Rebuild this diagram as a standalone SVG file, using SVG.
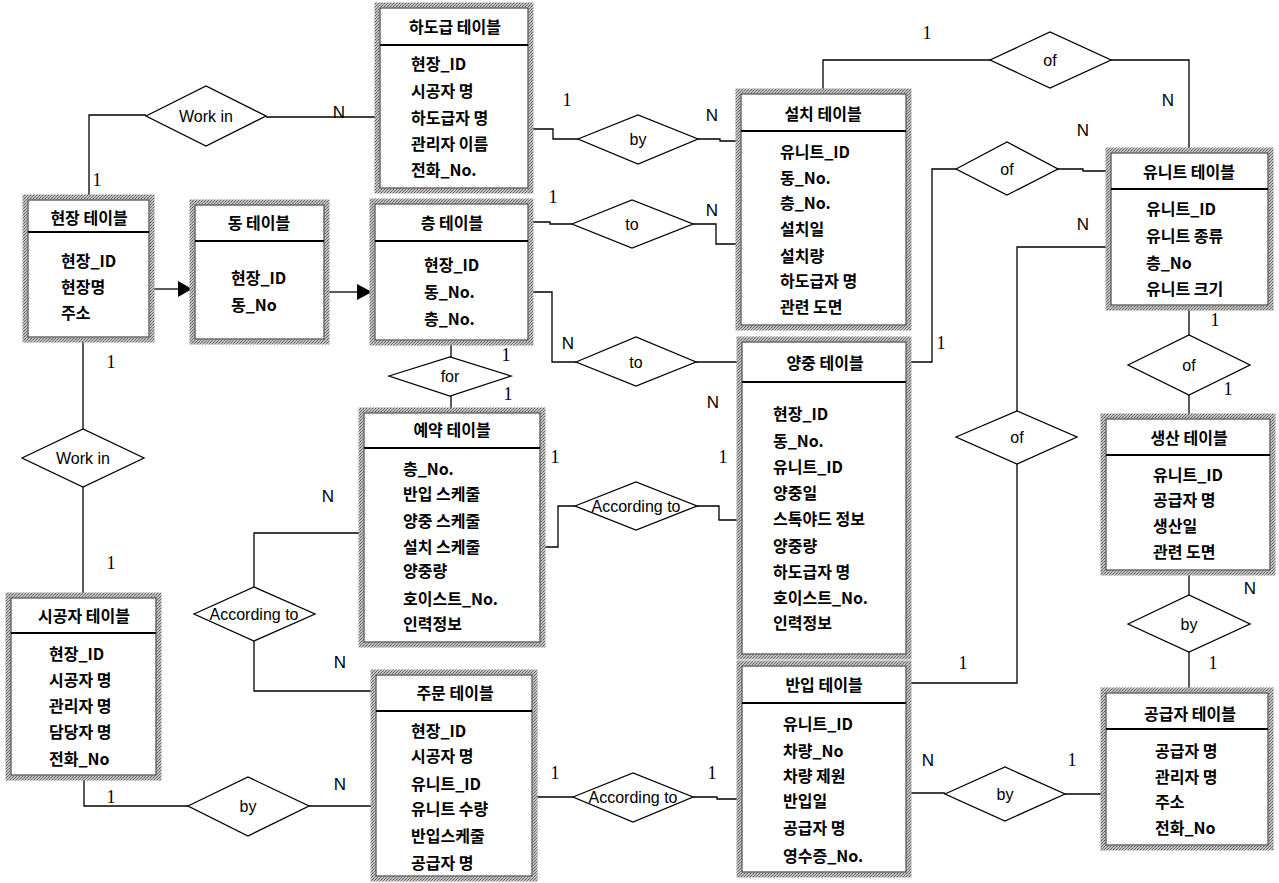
<svg xmlns="http://www.w3.org/2000/svg" width="1279" height="883" viewBox="0 0 1279 883">
<defs>
<pattern id="hatch" width="3" height="3" patternUnits="userSpaceOnUse">
<rect width="3" height="3" fill="#c4c4c4"/>
<rect width="1" height="1" fill="#555"/>
<rect x="2" y="1" width="1" height="1" fill="#777"/>
<rect x="1" y="2" width="1" height="1" fill="#666"/>
</pattern>
</defs>
<style>
.frame{fill:#fff;stroke:url(#hatch);stroke-width:5}
.inner{fill:none;stroke:#222;stroke-width:1}
.div{stroke:#000;stroke-width:2}
.t{font-family:"Noto Sans CJK KR","Noto Sans",sans-serif;font-size:16px;font-weight:700;fill:#000;dominant-baseline:central}
.tt{text-anchor:middle}
.c{fill:none;stroke:#000;stroke-width:1.3}
.dia{fill:#fff;stroke:#000;stroke-width:1.3}
.dl{font-family:"Liberation Sans",Arial,sans-serif;font-size:16px;fill:#000;text-anchor:middle;dominant-baseline:central}
.n{font-family:"Liberation Sans",Arial,sans-serif;font-size:17px;fill:#000;text-anchor:middle;dominant-baseline:central}
.one{font-family:"Liberation Serif","Times New Roman",serif;font-size:18px;fill:#000;text-anchor:middle;dominant-baseline:central}
</style>

<g id="connectors">
<polyline class="c" points="89,197 89,115 146,115"/>
<line class="c" x1="266" y1="117" x2="377" y2="117"/>
<polyline class="c" points="531,129 553,129 553,139 578,139"/>
<polyline class="c" points="698,139 720,139 720,141 738,141"/>
<polyline class="c" points="531,222 550,222 550,224 572,224"/>
<polyline class="c" points="693,224 716,224 716,244 738,244"/>
<polyline class="c" points="531,292 552,292 552,362 576,362"/>
<line class="c" x1="696" y1="362" x2="739" y2="362"/>
<line class="c" x1="451" y1="343" x2="451" y2="357"/>
<line class="c" x1="451" y1="396" x2="451" y2="410"/>
<line class="c" x1="83" y1="340" x2="83" y2="429"/>
<line class="c" x1="83" y1="487" x2="83" y2="595"/>
<polyline class="c" points="254,587 254,533 361,533"/>
<polyline class="c" points="254,641 254,691 373,691"/>
<polyline class="c" points="84,778 84,806 188,806"/>
<line class="c" x1="309" y1="806" x2="373" y2="806"/>
<line class="c" x1="535" y1="797" x2="573" y2="797"/>
<polyline class="c" points="693,797 717,797 717,799 739,799"/>
<polyline class="c" points="543,547 558,547 558,506 575,506"/>
<polyline class="c" points="697,506 719,506 719,520 739,520"/>
<polyline class="c" points="823,91 823,60 990,60"/>
<polyline class="c" points="1111,60 1189,60 1189,150"/>
<polyline class="c" points="909,362 932,362 932,169 956,169"/>
<polyline class="c" points="1058,169 1083,169 1083,171 1108,171"/>
<line class="c" x1="1189" y1="308" x2="1189" y2="335"/>
<line class="c" x1="1189" y1="395" x2="1189" y2="416"/>
<polyline class="c" points="1108,247 1017,247 1017,411"/>
<polyline class="c" points="1017,464 1017,683 909,683"/>
<line class="c" x1="1189" y1="573" x2="1189" y2="595"/>
<line class="c" x1="1189" y1="652" x2="1189" y2="690"/>
<line class="c" x1="909" y1="793" x2="945" y2="793"/>
<line class="c" x1="1065" y1="794" x2="1103" y2="794"/>
<line class="c" x1="152" y1="289" x2="179" y2="289"/>
<polygon points="178,281 192,289 178,297" fill="#000"/>
<line class="c" x1="327" y1="292" x2="358" y2="292"/>
<polygon points="357,284 372,292 357,300" fill="#000"/>
</g>

<g id="rel-workin-top"><polygon class="dia" points="146,116 206,86 266,116 206,146"/><text class="dl" x="206" y="116">Work in</text></g>
<g id="rel-by-subcon"><polygon class="dia" points="578,139 638,115 698,139 638,164"/><text class="dl" x="638" y="139">by</text></g>
<g id="rel-to-install"><polygon class="dia" points="572,224 632,200 693,224 632,248"/><text class="dl" x="632" y="224">to</text></g>
<g id="rel-to-lift"><polygon class="dia" points="576,362 636,337 696,362 636,386"/><text class="dl" x="636" y="362">to</text></g>
<g id="rel-for"><polygon class="dia" points="389,376 450,357 511,376 450,396"/><text class="dl" x="450" y="376">for</text></g>
<g id="rel-workin-left"><polygon class="dia" points="22,458 83,429 144,458 83,487"/><text class="dl" x="83" y="458">Work in</text></g>
<g id="rel-according-left"><polygon class="dia" points="194,614 254,587 315,614 254,641"/><text class="dl" x="254" y="614">According to</text></g>
<g id="rel-by-order"><polygon class="dia" points="188,806 248,777 309,806 248,836"/><text class="dl" x="248" y="806">by</text></g>
<g id="rel-according-bottom"><polygon class="dia" points="573,797 633,773 693,797 633,822"/><text class="dl" x="633" y="797">According to</text></g>
<g id="rel-according-mid"><polygon class="dia" points="575,506 636,482 697,506 636,530"/><text class="dl" x="636" y="506">According to</text></g>
<g id="rel-of-top"><polygon class="dia" points="990,60 1050,32 1111,60 1050,88"/><text class="dl" x="1050" y="60">of</text></g>
<g id="rel-of-lift"><polygon class="dia" points="956,169 1007,142 1058,169 1007,195"/><text class="dl" x="1007" y="169">of</text></g>
<g id="rel-of-prod"><polygon class="dia" points="1128,365 1189,335 1250,365 1189,395"/><text class="dl" x="1189" y="365">of</text></g>
<g id="rel-of-delivery"><polygon class="dia" points="956,437 1017,411 1077,437 1017,464"/><text class="dl" x="1017" y="437">of</text></g>
<g id="rel-by-supplier"><polygon class="dia" points="1128,624 1189,595 1250,624 1189,652"/><text class="dl" x="1189" y="624">by</text></g>
<g id="rel-by-delivery"><polygon class="dia" points="945,794 1005,767 1065,794 1005,821"/><text class="dl" x="1005" y="794">by</text></g>

<g id="cardinalities">
<text class="one" x="97" y="180">1</text>
<text class="n" x="339" y="112">N</text>
<text class="one" x="567" y="100">1</text>
<text class="n" x="712" y="115">N</text>
<text class="one" x="553" y="197">1</text>
<text class="n" x="712" y="210">N</text>
<text class="n" x="568" y="343">N</text>
<text class="n" x="713" y="402">N</text>
<text class="one" x="506" y="355">1</text>
<text class="one" x="508" y="394">1</text>
<text class="one" x="111" y="362">1</text>
<text class="one" x="111" y="563">1</text>
<text class="n" x="328" y="496">N</text>
<text class="n" x="340" y="662">N</text>
<text class="one" x="111" y="797">1</text>
<text class="n" x="340" y="784">N</text>
<text class="one" x="555" y="773">1</text>
<text class="one" x="712" y="773">1</text>
<text class="one" x="555" y="457">1</text>
<text class="one" x="723" y="457">1</text>
<text class="one" x="927" y="33">1</text>
<text class="n" x="1168" y="100">N</text>
<text class="one" x="941" y="343">1</text>
<text class="n" x="1083" y="130">N</text>
<text class="one" x="1215" y="320">1</text>
<text class="one" x="1228" y="389">1</text>
<text class="n" x="1083" y="224">N</text>
<text class="one" x="963" y="663">1</text>
<text class="n" x="1250" y="588">N</text>
<text class="one" x="1213" y="663">1</text>
<text class="n" x="928" y="760">N</text>
<text class="one" x="1072" y="760">1</text>
</g>

<g id="t-site">
<rect class="frame" x="25" y="197" width="127" height="143"/><rect class="inner" x="28" y="200" width="121" height="137"/>
<line class="div" x1="28" y1="232" x2="149" y2="232"/>
<text class="t tt" x="89" y="217">현장 테이블</text>
<text class="t" x="61" y="260">현장_ID</text>
<text class="t" x="61" y="286">현장명</text>
<text class="t" x="61" y="312">주소</text>
</g>

<g id="t-dong">
<rect class="frame" x="192" y="202" width="135" height="140"/><rect class="inner" x="195" y="205" width="129" height="134"/>
<line class="div" x1="195" y1="241" x2="324" y2="241"/>
<text class="t tt" x="259" y="222">동 테이블</text>
<text class="t" x="231" y="277">현장_ID</text>
<text class="t" x="231" y="304">동_No</text>
</g>

<g id="t-floor">
<rect class="frame" x="372" y="201" width="159" height="142"/><rect class="inner" x="375" y="204" width="153" height="136"/>
<line class="div" x1="375" y1="241" x2="528" y2="241"/>
<text class="t tt" x="452" y="222">층 테이블</text>
<text class="t" x="424" y="264">현장_ID</text>
<text class="t" x="424" y="291">동_No.</text>
<text class="t" x="424" y="318">층_No.</text>
</g>

<g id="t-subcon">
<rect class="frame" x="377" y="5" width="154" height="186"/><rect class="inner" x="380" y="8" width="148" height="180"/>
<line class="div" x1="380" y1="45" x2="528" y2="45"/>
<text class="t tt" x="455" y="26">하도급 테이블</text>
<text class="t" x="411" y="63">현장_ID</text>
<text class="t" x="411" y="90">시공자 명</text>
<text class="t" x="411" y="117">하도급자 명</text>
<text class="t" x="411" y="143">관리자 이름</text>
<text class="t" x="411" y="169">전화_No.</text>
</g>

<g id="t-install">
<rect class="frame" x="738" y="91" width="171" height="237"/><rect class="inner" x="741" y="94" width="165" height="231"/>
<line class="div" x1="741" y1="131" x2="906" y2="131"/>
<text class="t tt" x="823" y="113">설치 테이블</text>
<text class="t" x="780" y="151">유니트_ID</text>
<text class="t" x="780" y="177">동_No.</text>
<text class="t" x="780" y="202">층_No.</text>
<text class="t" x="780" y="228">설치일</text>
<text class="t" x="780" y="255">설치량</text>
<text class="t" x="780" y="280">하도급자 명</text>
<text class="t" x="780" y="306">관련 도면</text>
</g>

<g id="t-unit">
<rect class="frame" x="1108" y="150" width="163" height="158"/><rect class="inner" x="1111" y="153" width="157" height="152"/>
<line class="div" x1="1111" y1="189" x2="1268" y2="189"/>
<text class="t tt" x="1189" y="171">유니트 테이블</text>
<text class="t" x="1146" y="208">유니트_ID</text>
<text class="t" x="1146" y="235">유니트 종류</text>
<text class="t" x="1146" y="262">층_No</text>
<text class="t" x="1146" y="288">유니트 크기</text>
</g>

<g id="t-lift">
<rect class="frame" x="739" y="339" width="170" height="318"/><rect class="inner" x="742" y="342" width="164" height="312"/>
<line class="div" x1="742" y1="382" x2="906" y2="382"/>
<text class="t tt" x="825" y="362">양중 테이블</text>
<text class="t" x="773" y="413">현장_ID</text>
<text class="t" x="773" y="440">동_No.</text>
<text class="t" x="773" y="466">유니트_ID</text>
<text class="t" x="773" y="492">양중일</text>
<text class="t" x="773" y="518">스톡야드 정보</text>
<text class="t" x="773" y="545">양중량</text>
<text class="t" x="773" y="571">하도급자 명</text>
<text class="t" x="773" y="597">호이스트_No.</text>
<text class="t" x="773" y="622">인력정보</text>
</g>

<g id="t-reserve">
<rect class="frame" x="361" y="410" width="182" height="235"/><rect class="inner" x="364" y="413" width="176" height="229"/>
<line class="div" x1="364" y1="448" x2="540" y2="448"/>
<text class="t tt" x="452" y="429">예약 테이블</text>
<text class="t" x="403" y="468">층_No.</text>
<text class="t" x="403" y="493">반입 스케줄</text>
<text class="t" x="403" y="520">양중 스케줄</text>
<text class="t" x="403" y="546">설치 스케줄</text>
<text class="t" x="403" y="570">양중량</text>
<text class="t" x="403" y="598">호이스트_No.</text>
<text class="t" x="403" y="623">인력정보</text>
</g>

<g id="t-production">
<rect class="frame" x="1103" y="416" width="170" height="157"/><rect class="inner" x="1106" y="419" width="164" height="151"/>
<line class="div" x1="1106" y1="455" x2="1270" y2="455"/>
<text class="t tt" x="1189" y="437">생산 테이블</text>
<text class="t" x="1153" y="474">유니트_ID</text>
<text class="t" x="1153" y="499">공급자 명</text>
<text class="t" x="1153" y="525">생산일</text>
<text class="t" x="1153" y="551">관련 도면</text>
</g>

<g id="t-contractor">
<rect class="frame" x="8" y="595" width="151" height="183"/><rect class="inner" x="11" y="598" width="145" height="177"/>
<line class="div" x1="11" y1="633" x2="156" y2="633"/>
<text class="t tt" x="84" y="615">시공자 테이블</text>
<text class="t" x="49" y="653">현장_ID</text>
<text class="t" x="49" y="679">시공자 명</text>
<text class="t" x="49" y="705">관리자 명</text>
<text class="t" x="49" y="731">담당자 명</text>
<text class="t" x="49" y="758">전화_No</text>
</g>

<g id="t-order">
<rect class="frame" x="373" y="672" width="162" height="207"/><rect class="inner" x="376" y="675" width="156" height="201"/>
<line class="div" x1="376" y1="711" x2="532" y2="711"/>
<text class="t tt" x="455" y="692">주문 테이블</text>
<text class="t" x="411" y="730">현장_ID</text>
<text class="t" x="411" y="755">시공자 명</text>
<text class="t" x="411" y="783">유니트_ID</text>
<text class="t" x="411" y="808">유니트 수량</text>
<text class="t" x="411" y="835">반입스케줄</text>
<text class="t" x="411" y="862">공급자 명</text>
</g>

<g id="t-delivery">
<rect class="frame" x="739" y="663" width="170" height="212"/><rect class="inner" x="742" y="666" width="164" height="206"/>
<line class="div" x1="742" y1="703" x2="906" y2="703"/>
<text class="t tt" x="824" y="684">반입 테이블</text>
<text class="t" x="783" y="723">유니트_ID</text>
<text class="t" x="783" y="750">차량_No</text>
<text class="t" x="783" y="775">차량 제원</text>
<text class="t" x="783" y="800">반입일</text>
<text class="t" x="783" y="827">공급자 명</text>
<text class="t" x="783" y="855">영수증_No.</text>
</g>

<g id="t-supplier">
<rect class="frame" x="1103" y="690" width="168" height="158"/><rect class="inner" x="1106" y="693" width="162" height="152"/>
<line class="div" x1="1106" y1="729" x2="1268" y2="729"/>
<text class="t tt" x="1190" y="713">공급자 테이블</text>
<text class="t" x="1155" y="750">공급자 명</text>
<text class="t" x="1155" y="776">관리자 명</text>
<text class="t" x="1155" y="801">주소</text>
<text class="t" x="1155" y="827">전화_No</text>
</g>
</svg>
